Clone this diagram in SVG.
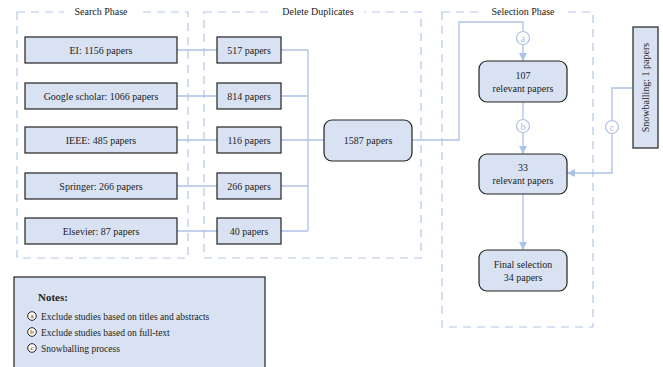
<svg xmlns="http://www.w3.org/2000/svg" width="663" height="367" viewBox="0 0 663 367" font-family="'Liberation Serif','Times New Roman',serif">
<style>
text{font-family:"Liberation Serif","Times New Roman",serif;font-size:10px;fill:#222}
.grp{fill:none;stroke:#b4c7e7;stroke-width:1.2;stroke-dasharray:8,6}
.gt{fill:#fff}
.box{fill:#d9e2f3;stroke:#222;stroke-width:1.2}
.con{fill:none;stroke:#adc1e8;stroke-width:1.3}
.cc{fill:#fff;stroke:#adc1e8;stroke-width:1.2}
.cl{fill:#a6bbe6;font-size:10px}
.nc{fill:#fff;stroke:#222;stroke-width:1}
.nl{font-size:7px}
</style>
<defs>
<marker id="ah" viewBox="0 0 10 10" refX="10" refY="5" markerWidth="8" markerHeight="8" markerUnits="userSpaceOnUse" orient="auto">
<path d="M0,0 L10,5 L0,10 z" fill="#adc1e8"/>
</marker>
</defs>
<g id="groups">
<rect class="grp" x="17" y="12" width="171" height="246"/>
<rect class="gt" x="64" y="5" width="74" height="12"/>
<text x="101" y="15" text-anchor="middle">Search Phase</text>
<rect class="grp" x="204" y="12" width="217" height="246"/>
<rect class="gt" x="272" y="5" width="92" height="12"/>
<text x="318" y="15" text-anchor="middle">Delete Duplicates</text>
<rect class="grp" x="442" y="12" width="151" height="315"/>
<rect class="gt" x="482" y="5" width="82" height="12"/>
<text x="523" y="15" text-anchor="middle">Selection Phase</text>
</g>
<g id="connectors">
<path class="con" d="M177,50H217M177,96H217M177,140H217M177,186H217M177,231H217"/>
<path class="con" d="M281,50H308M281,96H308M281,140H308M281,186H308M281,231H308M308,50V231M308,140H324"/>
<path class="con" d="M412,140H459V22H523V61" marker-end="url(#ah)"/>
<path class="con" d="M523,102V154" marker-end="url(#ah)"/>
<path class="con" d="M523,194V250" marker-end="url(#ah)"/>
<path class="con" d="M633,88H612V173H567" marker-end="url(#ah)"/>
<circle class="cc" cx="523" cy="38" r="6.5"/>
<text class="cl" x="523" y="41.5" text-anchor="middle">a</text>
<circle class="cc" cx="523" cy="126" r="6.5"/>
<text class="cl" x="523" y="129.5" text-anchor="middle">b</text>
<circle class="cc" cx="612" cy="127" r="6.5"/>
<text class="cl" x="612" y="130.5" text-anchor="middle">c</text>
</g>
<g id="ei"><rect class="box" x="25" y="37" width="152" height="26"/><text x="101" y="53.5" text-anchor="middle">EI: 1156 papers</text></g>
<g id="google"><rect class="box" x="25" y="83" width="152" height="26"/><text x="101" y="99.5" text-anchor="middle">Google scholar: 1066 papers</text></g>
<g id="ieee"><rect class="box" x="25" y="127" width="152" height="26"/><text x="101" y="143.5" text-anchor="middle">IEEE: 485 papers</text></g>
<g id="springer"><rect class="box" x="25" y="173" width="152" height="26"/><text x="101" y="189.5" text-anchor="middle">Springer: 266 papers</text></g>
<g id="elsevier"><rect class="box" x="25" y="218" width="152" height="26"/><text x="101" y="234.5" text-anchor="middle">Elsevier: 87 papers</text></g>
<g id="d517"><rect class="box" x="217" y="37" width="64" height="26"/><text x="249" y="53.5" text-anchor="middle">517 papers</text></g>
<g id="d814"><rect class="box" x="217" y="83" width="64" height="26"/><text x="249" y="99.5" text-anchor="middle">814 papers</text></g>
<g id="d116"><rect class="box" x="217" y="127" width="64" height="26"/><text x="249" y="143.5" text-anchor="middle">116 papers</text></g>
<g id="d266"><rect class="box" x="217" y="173" width="64" height="26"/><text x="249" y="189.5" text-anchor="middle">266 papers</text></g>
<g id="d40"><rect class="box" x="217" y="218" width="64" height="26"/><text x="249" y="234.5" text-anchor="middle">40 papers</text></g>
<g id="total"><rect class="box" x="324" y="120" width="88" height="41" rx="8"/><text x="368" y="144" text-anchor="middle">1587 papers</text></g>
<g id="r107"><rect class="box" x="479" y="61" width="88" height="41" rx="8"/><text x="523" y="79" text-anchor="middle">107</text><text x="523" y="92" text-anchor="middle">relevant papers</text></g>
<g id="r33"><rect class="box" x="479" y="154" width="88" height="40" rx="8"/><text x="523" y="171" text-anchor="middle">33</text><text x="523" y="184" text-anchor="middle">relevant papers</text></g>
<g id="final"><rect class="box" x="479" y="250" width="88" height="41" rx="8"/><text x="523" y="268" text-anchor="middle">Final selection</text><text x="523" y="281" text-anchor="middle">34 papers</text></g>
<g id="snowball"><rect class="box" x="633" y="27" width="25" height="121"/><text transform="translate(649,87.5) rotate(-90)" text-anchor="middle">Snowballing: 1 papers</text></g>
<g id="notes">
<rect class="box" x="14" y="277" width="251" height="100"/>
<text x="38" y="301" style="font-weight:bold;font-size:11px">Notes:</text>
<circle class="nc" cx="32" cy="316" r="4.3"/><text class="nl" x="32" y="318.3" text-anchor="middle">a</text>
<text x="41" y="319.5" style="font-size:9.5px">Exclude studies based on titles and abstracts</text>
<circle class="nc" cx="32" cy="332" r="4.3"/><text class="nl" x="32" y="334.3" text-anchor="middle">b</text>
<text x="41" y="335.5" style="font-size:9.5px">Exclude studies based on full-text</text>
<circle class="nc" cx="32" cy="348" r="4.3"/><text class="nl" x="32" y="350.3" text-anchor="middle">c</text>
<text x="41" y="351.5" style="font-size:9.5px">Snowballing process</text>
</g>
</svg>
